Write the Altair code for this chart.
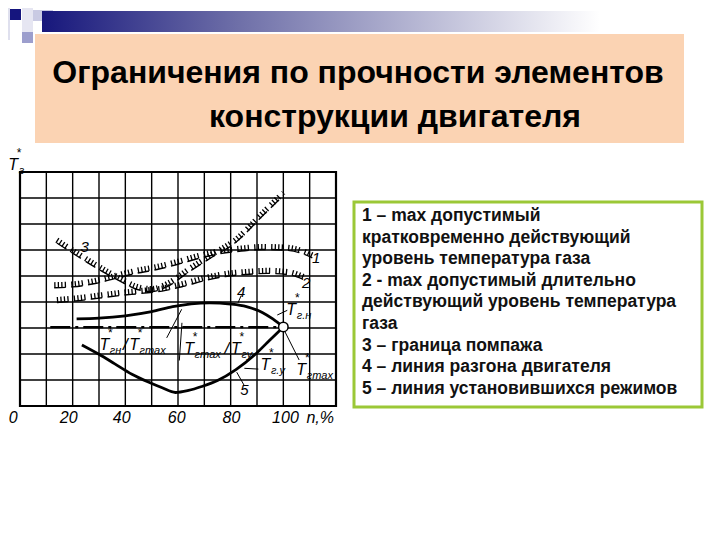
import altair as alt
import pandas as pd

# ---------------- data ----------------
# line 1 : max short-term gas temperature (hatched)
n1 = [13, 20, 28, 36, 44, 52, 60, 68, 76, 84, 92, 100, 106, 111]
t1 = [4.55, 4.58, 4.7, 4.9, 5.1, 5.25, 5.45, 5.68, 5.86, 5.96, 6.02, 6.0, 5.9, 5.7]
# line 2 : max long-term gas temperature (hatched)
n2 = [14, 22, 30, 38, 46, 54, 62, 70, 78, 86, 94, 102, 108]
t2 = [3.98, 4.05, 4.15, 4.25, 4.33, 4.42, 4.6, 4.82, 4.98, 5.06, 5.1, 5.05, 4.85]
# line 3 : surge boundary (hatched)
n3 = [14, 22, 30, 38, 44, 50, 56, 64, 73, 82, 91, 100]
t3 = [6.27, 5.75, 5.25, 4.8, 4.5, 4.4, 4.6, 5.15, 5.73, 6.3, 7.2, 8.1]
# line 4 : acceleration line
n4 = [21.5, 30, 40, 50, 58, 65, 72, 80, 86, 92, 96, 100]
t4 = [3.35, 3.38, 3.47, 3.63, 3.82, 3.93, 3.97, 3.92, 3.82, 3.6, 3.35, 3.04]
# line 5 : steady-state line
n5 = [23.5, 30, 36, 42.5, 48.5, 54, 59, 64, 69, 75, 82, 90, 95, 100]
t5 = [2.35, 1.99, 1.62, 1.22, 0.93, 0.7, 0.52, 0.6, 0.75, 0.98, 1.4, 2.05, 2.55, 3.04]
# dash-dot level line and the marked point
dd_n = [11.5, 100]
dd_t = [3.03, 3.03]
pt_n = [100]
pt_t = [3.04]

# grid
grid_n = [0, 10, 20, 30, 40, 50, 60, 70, 80, 90, 100, 110, 120]
grid_t = [0, 1, 2, 3, 4, 5, 6, 7, 8, 9]

# tick labels
tick_text = ["0", "20", "40", "60", "80", "100", "n,%"]
tick_n = [-2.6, 18.5, 38.6, 59.5, 80.3, 100.8, 114.0]
tick_t = [-0.46] * 7

# curve number labels
num_text = ["1", "2", "3", "4", "5"]
num_n = [112.5, 108.7, 24.6, 84.0, 85.2]
num_t = [5.7, 4.73, 6.1, 4.38, 0.6]

# T* annotations (letter T, superscript *, subscript)
T_n = [-2.6, 32.0, 43.3, 64.2, 82.0, 103.0, 93.2, 106.8]
T_t = [9.27, 2.35, 2.35, 2.19, 2.2, 3.69, 1.58, 1.38]
T_sub = ["г", "гн", "гmax", "гmax", "гу", "г.н", "г.у", "гmax"]
slash_n = [40.0, 78.6]
slash_t = [2.33, 2.2]

# leader lines
ld_n1 = [55.7, 60.5, 97.7, 85.2, 100.4, 85.2, 84.0]
ld_t1 = [2.62, 1.75, 3.5, 1.45, 2.9, 0.78, 4.25]
ld_n2 = [61.4, 61.5, 101.5, 90.5, 106.0, 82.3, 82.8]
ld_t2 = [3.72, 3.2, 3.68, 1.42, 1.77, 1.3, 3.97]

title_lines = ["Ограничения по прочности элементов", "конструкции двигателя"]
legend_lines = [
    "1 – max допустимый",
    "кратковременно действующий",
    "уровень температура газа",
    "2 - max допустимый длительно",
    "действующий уровень температура",
    "газа",
    "3 – граница помпажа",
    "4 – линия разгона двигателя",
    "5 – линия установившихся режимов",
]

# ---------------- chart ----------------
OFF = 8
W, H = 700, 520
xs = alt.Scale(domain=[0, 120], range=[20 - OFF, 336 - OFF], nice=False, zero=False)
ys = alt.Scale(domain=[0, 9], range=[406 - OFF, 172 - OFF], nice=False, zero=False)


def X(f):
    return alt.X(f"{f}:Q", scale=xs, axis=None)


def Y(f):
    return alt.Y(f"{f}:Q", scale=ys, axis=None)


one = pd.DataFrame({"k": [0]})


def box(x, y, x2, y2, **kw):
    return alt.Chart(one).mark_rect(**kw).encode(
        x=alt.value(x - OFF), x2=alt.value(x2 - OFF),
        y=alt.value(y - OFF), y2=alt.value(y2 - OFF))


layers = []
# slide decoration
layers.append(box(0, 0, 10, 40, color="#dfe0ee"))
layers.append(box(22, 0, 33, 32, color="#e6e6f2"))
layers.append(box(33, 10, 53, 21, color="#c9cae3"))
layers.append(box(22, 32, 33, 43, color="#9c9ecd"))
layers.append(box(10, 9, 21, 20, color="#15157e"))
layers.append(box(42, 11, 600, 32, fill=alt.LinearGradient(
    gradient="linear",
    stops=[alt.GradientStop(color="#17177c", offset=0),
           alt.GradientStop(color="#6e6fa8", offset=0.35),
           alt.GradientStop(color="#ffffff", offset=1)],
    x1=0, x2=1, y1=0, y2=0)))
layers.append(box(35, 34, 684, 143, color="#fbd3b3"))
layers.append(box(354, 202, 702, 407, fill="white", stroke="#9bc837", strokeWidth=3))

# title
layers.append(alt.Chart(one).mark_text(
    text=title_lines[0], font="Liberation Sans", fontWeight="bold", fontSize=32,
    align="center", baseline="alphabetic", color="black").encode(
    x=alt.value(358 - OFF), y=alt.value(83 - OFF)))
layers.append(alt.Chart(one).mark_text(
    text=title_lines[1], font="Liberation Sans", fontWeight="bold", fontSize=32,
    align="center", baseline="alphabetic", color="black").encode(
    x=alt.value(395 - OFF), y=alt.value(127 - OFF)))

# legend text
layers.append(alt.Chart(one).mark_text(
    text="\n".join(legend_lines), lineBreak="\n", lineHeight=21.6,
    font="Liberation Sans", fontWeight="bold", fontSize=17.5, align="left",
    baseline="alphabetic", color="#111111").encode(
    x=alt.value(362 - OFF), y=alt.value(221 - OFF)))

# grid
gv = pd.DataFrame({"n": grid_n, "a": [grid_t[0]] * len(grid_n), "b": [grid_t[-1]] * len(grid_n)})
gh = pd.DataFrame({"t": grid_t, "a": [grid_n[0]] * len(grid_t), "b": [grid_n[-1]] * len(grid_t)})
layers.append(alt.Chart(gv).mark_rule(color="black", strokeWidth=1.4).encode(
    x=X("n"), y=Y("a"), y2="b"))
layers.append(alt.Chart(gh).mark_rule(color="black", strokeWidth=1.4).encode(
    y=Y("t"), x=X("a"), x2="b"))
frame = pd.DataFrame({"n0": [grid_n[0]], "n1": [grid_n[-1]], "t0": [grid_t[0]], "t1": [grid_t[-1]]})
layers.append(alt.Chart(frame).mark_rect(fill=None, stroke="black", strokeWidth=2.2).encode(
    x=X("n0"), x2="n1", y=Y("t0"), y2="t1"))


def hatched(nv, tv):
    df = pd.DataFrame({"n": nv, "t": tv})
    base = alt.Chart(df).mark_line(color="black", strokeWidth=1.4, interpolate="monotone",
                                   strokeDash=[11.5, 5.5]).encode(x=X("n"), y=Y("t"))
    ticks = alt.Chart(df).mark_line(color="black", strokeWidth=5.5, interpolate="monotone",
                                    yOffset=-2.8,
                                    strokeDash=[1.3, 2.2, 1.3, 2.2, 1.3, 2.2, 1.3, 5.2]).encode(
        x=X("n"), y=Y("t"))
    return [base, ticks]


layers += hatched(n1, t1)
layers += hatched(n2, t2)
layers += hatched(n3, t3)

layers.append(alt.Chart(pd.DataFrame({"n": n4, "t": t4})).mark_line(
    color="black", strokeWidth=2.8, interpolate="monotone").encode(x=X("n"), y=Y("t")))
layers.append(alt.Chart(pd.DataFrame({"n": n5, "t": t5})).mark_line(
    color="black", strokeWidth=2.8, interpolate="monotone").encode(x=X("n"), y=Y("t")))
layers.append(alt.Chart(pd.DataFrame({"n": dd_n, "t": dd_t})).mark_line(
    color="black", strokeWidth=2.2, strokeDash=[20, 5, 3, 5]).encode(x=X("n"), y=Y("t")))

# leaders
ld = pd.DataFrame({"a": ld_n1, "b": ld_t1, "c": ld_n2, "d": ld_t2})
layers.append(alt.Chart(ld).mark_rule(color="black", strokeWidth=1).encode(
    x=X("a"), y=Y("b"), x2="c", y2="d"))

layers.append(alt.Chart(pd.DataFrame({"n": pt_n, "t": pt_t})).mark_point(
    shape="circle", size=90, filled=True, fill="white", stroke="black",
    strokeWidth=1.5, opacity=1).encode(x=X("n"), y=Y("t")))

# texts
tdf = pd.DataFrame({"n": T_n, "t": T_t, "s": T_sub})
layers.append(alt.Chart(tdf).mark_text(
    text="T", font="Liberation Sans", fontStyle="italic", fontSize=16,
    align="center", baseline="middle", color="black").encode(x=X("n"), y=Y("t")))
layers.append(alt.Chart(tdf).mark_text(
    text="*", font="Liberation Sans", fontSize=12, dx=6, dy=-12,
    align="center", baseline="middle", color="black").encode(x=X("n"), y=Y("t")))
layers.append(alt.Chart(tdf).mark_text(
    font="Liberation Sans", fontStyle="italic", fontSize=11, dx=5.5, dy=6,
    align="left", baseline="middle", color="black").encode(
    x=X("n"), y=Y("t"), text="s:N"))
layers.append(alt.Chart(pd.DataFrame({"n": slash_n, "t": slash_t})).mark_text(
    text="/", font="Liberation Sans", fontStyle="italic", fontSize=17,
    align="center", baseline="middle", color="black").encode(x=X("n"), y=Y("t")))
layers.append(alt.Chart(pd.DataFrame({"n": num_n, "t": num_t, "s": num_text})).mark_text(
    font="Liberation Sans", fontStyle="italic", fontSize=15,
    align="center", baseline="middle", color="black").encode(
    x=X("n"), y=Y("t"), text="s:N"))
layers.append(alt.Chart(pd.DataFrame({"n": tick_n, "t": tick_t, "s": tick_text})).mark_text(
    font="Liberation Sans", fontStyle="italic", fontSize=16,
    align="center", baseline="middle", color="black").encode(
    x=X("n"), y=Y("t"), text="s:N"))

chart = alt.layer(*layers).properties(
    width=W, height=H, autosize=alt.AutoSizeParams(type="none"), padding=0,
    background="white").configure_view(stroke=None)

chart.save("out.html", embed_options={"renderer": "svg", "actions": False})
